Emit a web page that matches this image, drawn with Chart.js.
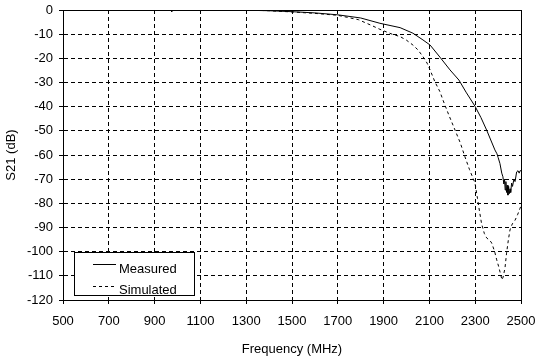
<!DOCTYPE html>
<html>
<head>
<meta charset="utf-8">
<script src="https://cdn.jsdelivr.net/npm/chart.js@4/dist/chart.umd.min.js"></script>
<style>
html,body{margin:0;padding:0;background:#fff;}
canvas{display:block;}
</style>
</head>
<body>
<canvas id="c" width="542" height="362"></canvas>
<script>
// Measured S21 (dB) vs frequency (MHz)
const measuredFreq = [500, 700, 900, 970, 975, 980, 1100, 1300, 1400, 1500, 1600, 1700, 1800, 1884, 1972, 2028, 2072, 2103, 2146, 2190, 2229, 2260, 2299, 2325, 2350, 2386, 2395, 2400, 2408, 2416, 2421, 2425, 2428, 2431, 2434, 2437, 2440, 2443, 2446, 2449, 2452, 2455, 2459, 2463, 2469, 2474, 2481, 2487, 2492, 2496, 2500];
const measuredS21  = [0, 0, 0, 0, -0.8, 0, 0, -0.1, -0.3, -0.7, -1.2, -2.0, -3.3, -5.5, -7.3, -9.6, -12.4, -14.5, -19.5, -24.8, -29, -34, -39.8, -44.5, -49.7, -57.9, -59.5, -61, -63.5, -67.5, -69, -72, -70, -74.5, -71, -75.5, -72.5, -76.6, -73, -76, -74, -75.5, -71.6, -73, -70, -71, -67, -66.5, -67.5, -66.5, -66.5];

// Simulated S21 (dB) vs frequency (MHz)
const simulatedFreq = [500, 900, 1300, 1400, 1500, 1600, 1700, 1790, 1850, 1884, 1937, 1972, 2000, 2028, 2050, 2072, 2090, 2103, 2124, 2146, 2159, 2185, 2212, 2235, 2255, 2275, 2290, 2299, 2310, 2320, 2328, 2340, 2350, 2365, 2372, 2385, 2394, 2402, 2410, 2417, 2422, 2430, 2437, 2445, 2452, 2462, 2474, 2486, 2496, 2500];
const simulatedS21  = [0, 0, 0, -0.3, -0.8, -1.4, -2.2, -4.0, -6.5, -8.0, -10, -11, -12.5, -14.5, -16.5, -19.3, -22, -24.8, -29.7, -33.8, -37.2, -43.5, -49.7, -55, -60.7, -66, -69.5, -71.5, -78, -84, -88.5, -92.5, -94.3, -95.5, -96.4, -100, -103.4, -106, -109, -111.7, -110.5, -106.8, -100.6, -95, -91, -88.5, -87, -84.5, -82, -81];

// Axis ticks
const xTicks = [500, 700, 900, 1100, 1300, 1500, 1700, 1900, 2100, 2300, 2500];
const yTicks = [0, -10, -20, -30, -40, -50, -60, -70, -80, -90, -100, -110, -120];

const toPoints = (xs, ys) => xs.map((x, i) => ({x: x, y: ys[i]}));
const FONT = 'Liberation Sans, Arial, sans-serif';

const zeroPad = s => { s.paddingLeft = 0; s.paddingRight = 0; s.paddingTop = 0; s.paddingBottom = 0; };

const framePlugin = {
  id: 'frame',
  afterDatasetsDraw(chart) {
    const {ctx, chartArea: a} = chart;
    ctx.save();
    ctx.strokeStyle = '#000';
    ctx.lineWidth = 1;
    ctx.setLineDash([]);
    ctx.strokeRect(Math.round(a.left) + 0.5, Math.round(a.top) + 0.5,
                   Math.round(a.right - a.left), Math.round(a.bottom - a.top));
    ctx.restore();
  }
};

const legendPlugin = {
  id: 'boxLegend',
  afterDraw(chart) {
    const {ctx} = chart;
    ctx.save();
    ctx.fillStyle = '#fff';
    ctx.fillRect(74.5, 252.5, 120, 43);
    ctx.strokeStyle = '#000';
    ctx.lineWidth = 1;
    ctx.setLineDash([]);
    ctx.strokeRect(74.5, 252.5, 120, 43);
    const rows = [264.5, 286.5];
    const base = [272.5, 294];
    chart.data.datasets.forEach((ds, i) => {
      ctx.beginPath();
      ctx.setLineDash(ds.borderDash || []);
      ctx.lineWidth = ds.borderWidth;
      ctx.strokeStyle = ds.borderColor;
      ctx.moveTo(93, rows[i]);
      ctx.lineTo(116, rows[i]);
      ctx.stroke();
      ctx.setLineDash([]);
      ctx.fillStyle = '#000';
      ctx.font = '13px ' + FONT;
      ctx.textBaseline = 'alphabetic';
      ctx.textAlign = 'left';
      ctx.fillText(ds.label, 119, base[i]);
    });
    ctx.restore();
  }
};

new Chart(document.getElementById('c'), {
  type: 'line',
  data: {
    datasets: [
      {
        label: 'Measured',
        data: toPoints(measuredFreq, measuredS21),
        borderColor: '#000',
        borderWidth: 1,
        pointRadius: 0,
        tension: 0,
        fill: false
      },
      {
        label: 'Simulated',
        data: toPoints(simulatedFreq, simulatedS21),
        borderColor: '#000',
        borderWidth: 1,
        borderDash: [3, 3],
        pointRadius: 0,
        tension: 0,
        fill: false
      }
    ]
  },
  options: {
    responsive: false,
    animation: false,
    devicePixelRatio: 1,
    layout: {padding: {left: 0, right: 21, top: 10, bottom: 0}},
    plugins: {legend: {display: false}, tooltip: {enabled: false}},
    scales: {
      x: {
        type: 'linear',
        min: 500,
        max: 2500,
        afterBuildTicks: s => { s.ticks = xTicks.map(v => ({value: v})); },
        afterFit: s => { s.height = 62; zeroPad(s); },
        ticks: {color: '#000', font: {family: FONT, size: 13}, padding: 10, maxRotation: 0, autoSkip: false,
                callback: v => String(v)},
        grid: {color: '#000', lineWidth: 1, tickLength: 4, tickColor: '#000', tickBorderDash: []},
        border: {display: true, color: '#000', width: 1, dash: [4, 3]},
        title: {display: true, text: 'Frequency (MHz)', color: '#000', font: {family: FONT, size: 13}, padding: {top: 0, bottom: 5}}
      },
      y: {
        type: 'linear',
        min: -120,
        max: 0,
        afterBuildTicks: s => { s.ticks = yTicks.map(v => ({value: v})); },
        afterFit: s => { s.width = 63; zeroPad(s); },
        ticks: {color: '#000', font: {family: FONT, size: 13}, padding: 6, autoSkip: false,
                callback: v => String(v)},
        grid: {color: '#000', lineWidth: 1, tickLength: 4, tickColor: '#000', tickBorderDash: []},
        border: {display: true, color: '#000', width: 1, dash: [4, 3]},
        title: {display: true, text: 'S21 (dB)', color: '#000', font: {family: FONT, size: 13}, padding: {top: 4, bottom: 0}}
      }
    }
  },
  plugins: [framePlugin, legendPlugin]
});
</script>
</body>
</html>
